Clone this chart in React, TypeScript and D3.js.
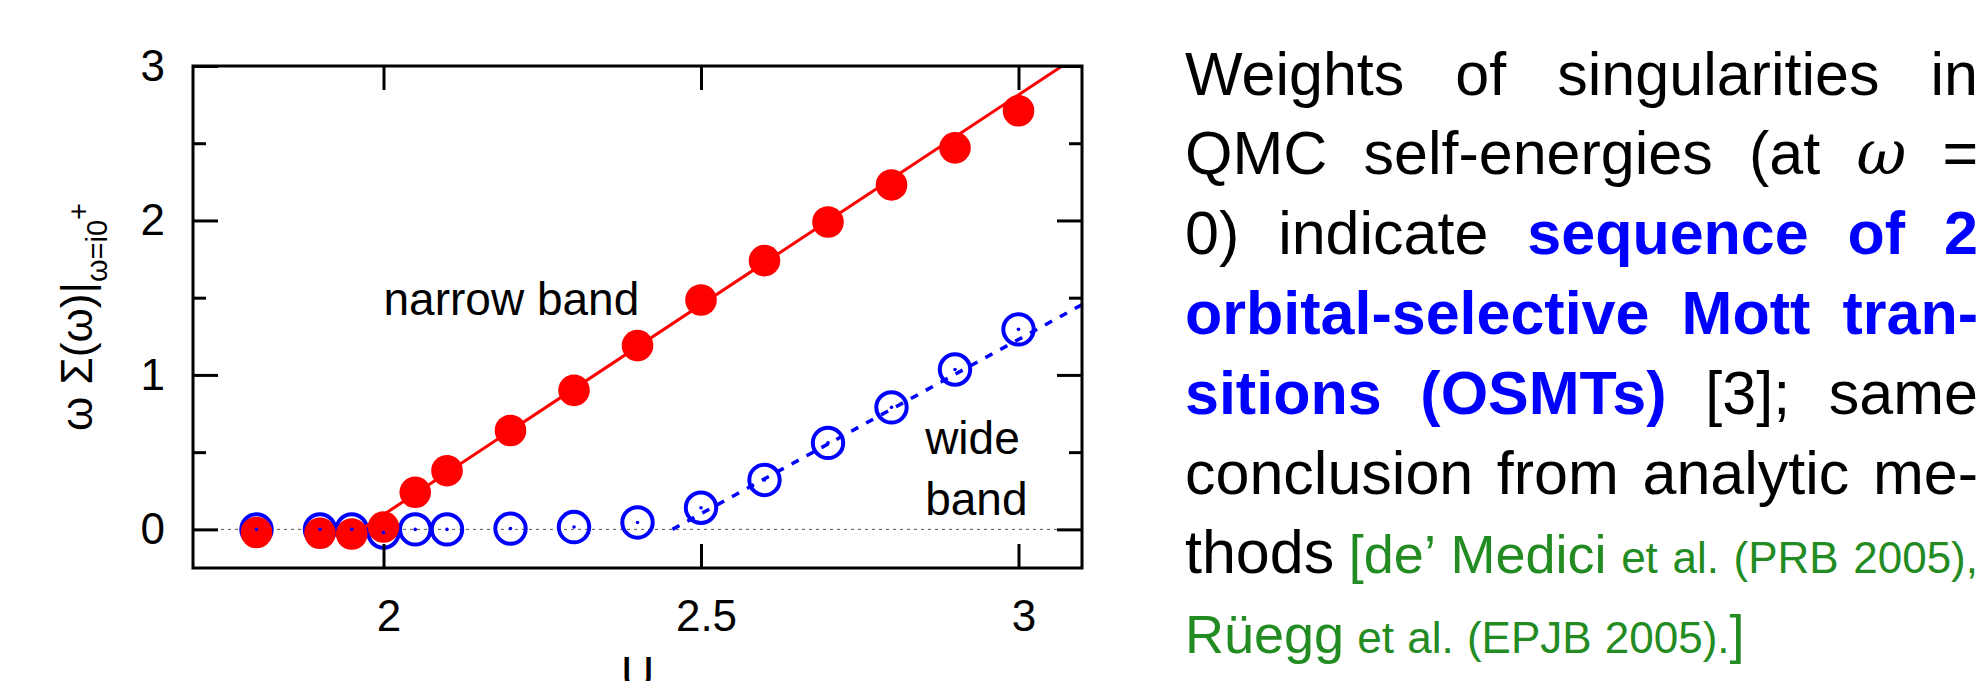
import React, { useEffect, useRef } from 'react';
import * as d3 from 'd3';

// U values and weights
const uValues = [1.8, 1.9, 1.95, 2.0, 2.05, 2.1, 2.2, 2.3, 2.4, 2.5, 2.6, 2.7, 2.8, 2.9, 3.0];
const narrowBand = [-0.02, -0.025, -0.03, 0.015, 0.24, 0.38, 0.64, 0.9, 1.19, 1.485, 1.74, 1.99, 2.23, 2.47, 2.71];
const wideBand = [0, 0, 0, -0.02, 0, 0, 0.005, 0.015, 0.045, 0.14, 0.32, 0.56, 0.79, 1.035, 1.295];

// linear fits
const narrowFitU = [1.965, 3.1];
const narrowFitW = [0, 3.085];
const wideFitU = [2.455, 3.1];
const wideFitW = [0, 1.455];

const xTicks = [2, 2.5, 3];
const yTicks = [0, 1, 2, 3];
const yMinorTicks = [0.5, 1.5, 2.5];

// paragraph: [word, style, glued-to-previous]
const textLines: [string, string, boolean?][][] = [
  [['Weights', 'n'], ['of', 'n'], ['singularities', 'n'], ['in', 'n']],
  [['QMC', 'n'], ['self-energies', 'n'], ['(at', 'n'], ['ω', 'm'], ['=', 'n']],
  [['0)', 'n'], ['indicate', 'n'], ['sequence', 'b'], ['of', 'b'], ['2', 'b']],
  [['orbital-selective', 'b'], ['Mott', 'b'], ['tran-', 'b']],
  [['sitions', 'b'], ['(OSMTs)', 'b'], ['[3];', 'n'], ['same', 'n']],
  [['conclusion', 'n'], ['from', 'n'], ['analytic', 'n'], ['me-', 'n']],
  [['thods', 'n'], ['[de’', 'g'], ['Medici', 'g'], ['et', 's'], ['al.', 's'], ['(PRB', 's'], ['2005),', 's']],
  [['Rüegg', 'g'], ['et', 's'], ['al.', 's'], ['(EPJB', 's'], ['2005).', 's'], [']', 'g', true]],
];

const SANS = 'Liberation Sans';
const textStyles: any = {
  n: { size: 61, weight: 'normal', italic: false, family: SANS, fill: '#000000' },
  b: { size: 61, weight: 'bold', italic: false, family: SANS, fill: '#0000ff' },
  m: { size: 61, weight: 'normal', italic: true, family: 'DejaVu Serif', fill: '#000000' },
  g: { size: 54, weight: 'normal', italic: false, family: SANS, fill: '#228b22' },
  s: { size: 44, weight: 'normal', italic: false, family: SANS, fill: '#228b22' },
};

const W = 1987, H = 681;

const App = () => {
  const ref = useRef<SVGSVGElement>(null);
  useEffect(() => {
    draw(ref.current);
  }, []);
  return <svg ref={ref} width={W} height={H} style={{ position: 'absolute', left: 0, top: 0, background: '#fff' }} />;
};

const draw = (el: SVGSVGElement | null) => {
  if (!el) return;
  const svg = d3.select(el);
  svg.selectAll('*').remove();

  const x = d3.scaleLinear().domain([1.7, 3.1]).range([193, 1082]);
  const y = d3.scaleLinear().domain([-0.25, 3]).range([568, 66]);
  const [x0, x1] = x.range();
  const [y0, y1] = y.range();

  svg.append('defs').append('clipPath').attr('id', 'plotclip')
    .append('rect').attr('x', x0).attr('y', y1).attr('width', x1 - x0).attr('height', y0 - y1);

  // zero axis
  svg.append('line')
    .attr('x1', x0).attr('x2', x1).attr('y1', y(0)).attr('y2', y(0))
    .attr('stroke', '#555').attr('stroke-width', 1).attr('stroke-dasharray', '3,4');

  const ptsN = uValues.map((u, i) => ({ u, w: narrowBand[i] }));
  const ptsW = uValues.map((u, i) => ({ u, w: wideBand[i] }));
  const line = d3.line<[number, number]>().x(d => x(d[0])).y(d => y(d[1]));

  // wide band rings
  svg.append('g').selectAll('circle').data(ptsW).enter().append('circle')
    .attr('cx', d => x(d.u)).attr('cy', d => y(d.w)).attr('r', 15.2)
    .attr('fill', 'none').attr('stroke', '#0000ff').attr('stroke-width', 4);

  // narrow band fit + points
  svg.append('path')
    .attr('d', line(narrowFitU.map((u, i) => [u, narrowFitW[i]])))
    .attr('clip-path', 'url(#plotclip)')
    .attr('fill', 'none').attr('stroke', '#ff0000').attr('stroke-width', 3);
  svg.append('g').selectAll('circle').data(ptsN).enter().append('circle')
    .attr('cx', d => x(d.u)).attr('cy', d => y(d.w)).attr('r', 15.8)
    .attr('fill', '#ff0000');

  // wide band fit (dashed) + centre dots
  svg.append('path')
    .attr('d', line(wideFitU.map((u, i) => [u, wideFitW[i]])))
    .attr('clip-path', 'url(#plotclip)')
    .attr('fill', 'none').attr('stroke', '#0000ff').attr('stroke-width', 3.5)
    .attr('stroke-dasharray', '8,9');
  svg.append('g').selectAll('circle').data(ptsW).enter().append('circle')
    .attr('cx', d => x(d.u)).attr('cy', d => y(d.w)).attr('r', 1.8)
    .attr('fill', '#0000ff');

  // axes, gnuplot style: ticks inward on all sides
  const styleAxis = (g: any) => {
    g.select('.domain').remove();
    g.attr('font-family', `${SANS}, Arial, sans-serif`).attr('font-size', 44);
    g.selectAll('line').attr('stroke', '#000').attr('stroke-width', 3);
    g.selectAll('text').attr('fill', '#000');
  };
  const noLabel = () => '';
  svg.append('g').attr('transform', `translate(${x0},0)`)
    .call(d3.axisLeft(y).tickValues(yTicks).tickSize(-25).tickPadding(28).tickFormat(d => String(d)))
    .call(styleAxis);
  svg.append('g').attr('transform', `translate(${x0},0)`)
    .call(d3.axisLeft(y).tickValues(yMinorTicks).tickSize(-13).tickFormat(noLabel))
    .call(styleAxis);
  svg.append('g').attr('transform', `translate(${x1},0)`)
    .call(d3.axisRight(y).tickValues(yTicks).tickSize(-25).tickFormat(noLabel))
    .call(styleAxis);
  svg.append('g').attr('transform', `translate(${x1},0)`)
    .call(d3.axisRight(y).tickValues(yMinorTicks).tickSize(-13).tickFormat(noLabel))
    .call(styleAxis);
  const bottom = svg.append('g').attr('transform', `translate(0,${y0})`)
    .call(d3.axisBottom(x).tickValues(xTicks).tickSize(-24).tickPadding(32).tickFormat(d => String(d)))
    .call(styleAxis);
  bottom.selectAll('text').attr('dx', 5);
  svg.append('g').attr('transform', `translate(0,${y1})`)
    .call(d3.axisTop(x).tickValues(xTicks).tickSize(-24).tickFormat(noLabel))
    .call(styleAxis);

  // frame
  svg.append('rect')
    .attr('x', x0).attr('y', y1).attr('width', x1 - x0).attr('height', y0 - y1)
    .attr('fill', 'none').attr('stroke', '#000').attr('stroke-width', 3);

  // curve labels
  const lab = (t: string, u: number, w: number) => svg.append('text')
    .attr('x', x(u)).attr('y', y(w)).text(t)
    .attr('font-family', SANS).attr('font-size', 46).attr('fill', '#000');
  lab('narrow band', 2.0, 1.387);
  lab('wide', 2.853, 0.487);
  lab('band', 2.853, 0.093);

  // axis titles
  svg.append('text')
    .attr('x', (x0 + x1) / 2).attr('y', 689).attr('text-anchor', 'middle')
    .attr('font-family', SANS).attr('font-size', 46).text('U');

  const yl = svg.append('text')
    .attr('transform', `translate(92,${(y0 + y1) / 2}) rotate(-90)`)
    .attr('text-anchor', 'middle')
    .attr('font-family', SANS).attr('font-size', 44);
  yl.append('tspan').text('ω Σ(ω)|');
  yl.append('tspan').attr('font-size', 29).attr('dy', 15).text('ω=i0');
  yl.append('tspan').attr('font-size', 29).attr('dy', -18).text('+');

  // justified paragraph
  const ctx = document.createElement('canvas').getContext('2d')!;
  const fontOf = (st: any) => `${st.italic ? 'italic ' : ''}${st.weight} ${st.size}px "${st.family}"`;
  const measure = (t: string, st: any) => { ctx.font = fontOf(st); return ctx.measureText(t).width; };
  const left = 1185, right = 1978, base = 94.5, step = 79.8;
  const para = svg.append('g');
  textLines.forEach((words, li) => {
    const widths = words.map(([t, k]) => measure(t, textStyles[k]));
    const total = d3.sum(widths);
    const last = li === textLines.length - 1;
    const gap = (right - left - total) / (words.length - 1);
    let cx = left;
    words.forEach(([t, k, glued], wi) => {
      const st = textStyles[k];
      if (wi > 0) cx += glued ? 0 : (last ? 0.3 * st.size : gap);
      para.append('text')
        .attr('x', cx).attr('y', base + li * step)
        .attr('font-family', st.family).attr('font-size', st.size)
        .attr('font-weight', st.weight).attr('font-style', st.italic ? 'italic' : 'normal')
        .attr('fill', st.fill).text(t);
      cx += widths[wi];
    });
  });
};

export default App;
